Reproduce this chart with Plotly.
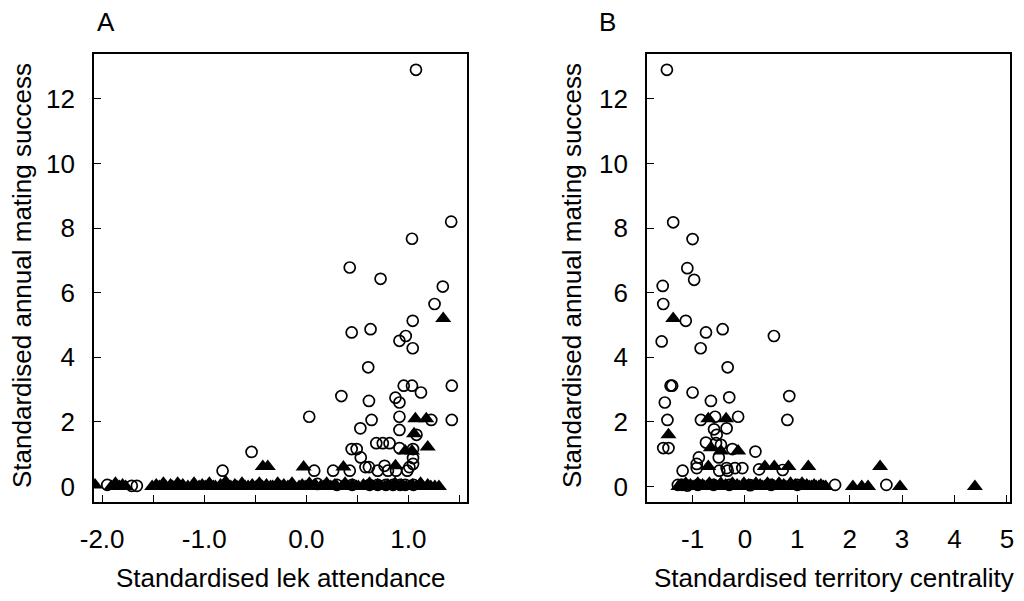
import plotly.graph_objects as go

# ---------------- Panel A : lek attendance ----------------
A_circ_x = [1.075, 1.42, 1.036, 0.426, 0.728, 1.338, 1.257, 1.043, 0.445, 0.63, 0.975, 0.913,
            1.043, 0.607, 0.955, 1.036, 1.426, 1.124, 0.344, 0.614, 0.874, 0.913, 0.029, 0.913,
            0.64, 1.225, 1.426, 0.53, 0.913, 1.08, 0.686, 0.75, 0.816, 0.445, 0.494, 0.913,
            1.046, 0.534, 1.046, 1.046, -0.536, -0.82, 0.078, 0.263, 0.426, 0.58, 0.614, 0.767,
            0.70, 0.80, 0.88, 0.99, 1.01,
            -1.95, -1.71, -1.66, 0.11, 0.30, 0.45, 0.62, 0.70, 0.78, 0.85, 0.92, 0.97, 1.05]
A_circ_y = [12.9, 8.2, 7.67, 6.78, 6.43, 6.19, 5.65, 5.13, 4.77, 4.87, 4.66, 4.51,
            4.28, 3.69, 3.12, 3.12, 3.12, 2.91, 2.80, 2.65, 2.75, 2.60, 2.16, 2.16,
            2.06, 2.06, 2.06, 1.80, 1.75, 1.60, 1.34, 1.34, 1.34, 1.16, 1.16, 1.19,
            1.16, 0.90, 0.88, 0.70, 1.07, 0.49, 0.49, 0.49, 0.49, 0.60, 0.60, 0.64,
            0.49, 0.49, 0.49, 0.49, 0.60,
            0.05, 0.02, 0.02, 0.08, 0.05, 0.05, 0.05, 0.05, 0.05, 0.05, 0.05, 0.05, 0.05]

A_tri_x = [1.342, 1.069, 1.176, 1.056, 1.19, 0.97, 1.036, -0.426, -0.377, -0.026, 0.364, 0.874,
           -2.07, -1.91, -1.87, -1.83, -1.80, -1.77,
           -1.51, -1.47, -1.44, -1.40, -1.38, -1.33, -1.31, -1.26, -1.23, -1.21, -1.16, -1.12,
           -1.10, -1.05, -1.02, -0.99, -0.95, -0.91, -0.89, -0.84, -0.81, -0.79, -0.74, -0.70,
           -0.68, -0.63, -0.60, -0.57, -0.53, -0.49, -0.46, -0.43, -0.39, -0.35, -0.33, -0.28,
           -0.25, -0.22, -0.18, -0.14, -0.12, -0.07, -0.04, -0.01, 0.03, 0.07, 0.09, 0.14,
           0.17, 0.20, 0.24, 0.28, 0.30, 0.35, 0.38, 0.41, 0.45, 0.49, 0.51, 0.56,
           0.59, 0.62, 0.66, 0.70, 0.72, 0.77, 0.80, 0.83, 0.87, 0.91, 0.93, 0.98,
           1.01, 1.04, 1.08, 1.12, 1.14, 1.19, 1.22, 1.26, 1.30]
A_tri_y = [5.2, 2.1, 2.1, 1.63, 1.22, 1.1, 1.1, 0.62, 0.62, 0.60, 0.60, 0.64,
           0.05, 0.0, 0.1, 0.0, 0.05, 0.0,
           0.0, 0.05, 0.0, 0.1, 0.0, 0.05, 0.0, 0.1, 0.0, 0.05, 0.0, 0.0,
           0.1, 0.0, 0.05, 0.0, 0.1, 0.0, 0.0, 0.05, 0.0, 0.15, 0.0, 0.05,
           0.0, 0.1, 0.0, 0.0, 0.05, 0.0, 0.1, 0.0, 0.05, 0.0, 0.0, 0.1,
           0.0, 0.05, 0.0, 0.1, 0.0, 0.0, 0.05, 0.0, 0.1, 0.0, 0.05, 0.0,
           0.0, 0.1, 0.0, 0.05, 0.0, 0.0, 0.1, 0.0, 0.05, 0.0, 0.0, 0.05,
           0.0, 0.1, 0.0, 0.05, 0.0, 0.0, 0.05, 0.0, 0.1, 0.0, 0.05, 0.0,
           0.0, 0.05, 0.0, 0.1, 0.0, 0.05, 0.0, 0.0, 0.0]

# ---------------- Panel B : territory centrality ----------------
B_circ_x = [-1.49, -1.37, -1.00, -1.10, -0.97, -1.57, -1.56, -1.13, -0.744, -0.426, 0.553, -1.59,
            -0.846, -0.33, -1.42, -1.39, -1.00, -1.53, -0.65, -0.30, 0.846, -1.48, -0.84, -0.57,
            -0.13, 0.81, -0.59, -0.35, -0.54, -0.744, -0.553, -0.458, -1.56, -1.46, -0.24, 0.20,
            -0.50, -0.88, -0.92, -0.92, -1.19, -0.35, -0.19, -0.05, -0.49, -0.33, 0.27, 0.72,
            1.72, 2.70,
            -1.28, -1.20, -1.10, -0.90, -0.60, -0.30, 0.10, 0.50, 1.00]
B_circ_y = [12.9, 8.18, 7.66, 6.76, 6.40, 6.21, 5.65, 5.13, 4.77, 4.87, 4.66, 4.49,
            4.28, 3.69, 3.12, 3.12, 2.91, 2.60, 2.65, 2.76, 2.80, 2.06, 2.06, 2.16,
            2.16, 2.06, 1.77, 1.80, 1.60, 1.36, 1.34, 1.29, 1.19, 1.19, 1.16, 1.08,
            0.90, 0.90, 0.70, 0.57, 0.49, 0.57, 0.57, 0.57, 0.49, 0.49, 0.53, 0.51,
            0.05, 0.05,
            0.05, 0.05, 0.03, 0.05, 0.05, 0.05, 0.04, 0.05, 0.05]

B_tri_x = [-1.37, -0.70, -0.36, -1.46, -0.65, -0.46, -0.13, -0.70, 0.38, 0.56, 0.83, 1.21, 2.58,
           2.06, 2.23, 2.35, 2.96, 4.39,
           -1.27, -1.22, -1.18, -1.13, -1.08, -1.04, -0.99, -0.95, -0.90, -0.86, -0.81, -0.77,
           -0.73, -0.68, -0.64, -0.59, -0.55, -0.50, -0.46, -0.42, -0.37, -0.33, -0.28, -0.24,
           -0.19, -0.15, -0.11, -0.06, -0.02, 0.03, 0.07, 0.12, 0.16, 0.21, 0.25, 0.29,
           0.34, 0.38, 0.43, 0.47, 0.52, 0.56, 0.61, 0.65, 0.69, 0.74, 0.78, 0.83,
           0.87, 0.92, 0.96, 1.01, 1.05, 1.09, 1.14, 1.18, 1.23, 1.27, 1.32, 1.36,
           1.41, 1.45, 1.50, 1.54]
B_tri_y = [5.2, 2.1, 2.1, 1.6, 1.2, 1.1, 1.1, 0.62, 0.62, 0.62, 0.62, 0.62, 0.62,
           0.0, 0.0, 0.0, 0.0, 0.0,
           0.0, 0.05, 0.0, 0.1, 0.0, 0.05, 0.0, 0.0, 0.1, 0.0, 0.05, 0.0,
           0.0, 0.1, 0.0, 0.05, 0.0, 0.0, 0.1, 0.0, 0.05, 0.0, 0.0, 0.1,
           0.0, 0.05, 0.0, 0.0, 0.1, 0.0, 0.05, 0.0, 0.0, 0.1, 0.0, 0.05,
           0.0, 0.0, 0.1, 0.0, 0.05, 0.0, 0.0, 0.1, 0.0, 0.05, 0.0, 0.0,
           0.1, 0.0, 0.05, 0.0, 0.0, 0.1, 0.0, 0.05, 0.0, 0.0, 0.05, 0.0,
           0.0, 0.05, 0.0, 0.0]

A_xticks = [-2.0, -1.5, -1.0, -0.5, 0.0, 0.5, 1.0, 1.5]
A_xticktext = ["-2.0", "", "-1.0", "", "0.0", "", "1.0", ""]
B_xticks = [-1, 0, 1, 2, 3, 4, 5]
B_xticktext = ["-1", "0", "1", "2", "3", "4", "5"]
y_ticks = [0, 2, 4, 6, 8, 10, 12]

FONT = "Liberation Sans, Arial, sans-serif"
FS = 26

fig = go.Figure()

circ_marker = dict(symbol="circle-open", size=11, color="black", line=dict(width=1.7, color="black"))
tri_marker = dict(symbol="triangle-up", size=14, color="black", line=dict(width=0))

fig.add_trace(go.Scatter(x=A_circ_x, y=A_circ_y, mode="markers", marker=circ_marker,
                         xaxis="x", yaxis="y", showlegend=False))
fig.add_trace(go.Scatter(x=A_tri_x, y=A_tri_y, mode="markers", marker=tri_marker,
                         xaxis="x", yaxis="y", showlegend=False))
fig.add_trace(go.Scatter(x=B_circ_x, y=B_circ_y, mode="markers", marker=circ_marker,
                         xaxis="x2", yaxis="y2", showlegend=False))
fig.add_trace(go.Scatter(x=B_tri_x, y=B_tri_y, mode="markers", marker=tri_marker,
                         xaxis="x2", yaxis="y2", showlegend=False))

W, H = 1024, 601
OFF = 8  # page body margin in the browser
def px_x(p):
    return (p - OFF) / W
def px_y(p):
    return 1 - (p - OFF) / H

axis_common = dict(showline=True, linecolor="black", linewidth=1.6, mirror=True,
                   ticks="inside", ticklen=7, tickwidth=1.4, tickcolor="black",
                   showgrid=False, zeroline=False, automargin=False,
                   tickfont=dict(family=FONT, size=FS, color="black"))

fig.update_layout(
    width=W, height=H, autosize=False,
    margin=dict(l=0, r=0, t=0, b=0, pad=0, autoexpand=False),
    paper_bgcolor="white", plot_bgcolor="white",
    xaxis=dict(domain=[px_x(94), px_x(467)], range=[-2.08, 1.575], anchor="y",
               tickmode="array", tickvals=A_xticks, ticktext=A_xticktext,
               ticklabelstandoff=13, **axis_common),
    yaxis=dict(domain=[px_y(502), px_y(54)], range=[-0.48, 13.39], anchor="x",
               tickmode="array", tickvals=y_ticks, ticktext=[str(v) for v in y_ticks],
               ticklabelstandoff=12, **axis_common),
    xaxis2=dict(domain=[px_x(647), px_x(1010)], range=[-1.87, 5.06], anchor="y2",
                tickmode="array", tickvals=B_xticks, ticktext=B_xticktext,
                ticklabelstandoff=13, **axis_common),
    yaxis2=dict(domain=[px_y(502), px_y(54)], range=[-0.48, 13.39], anchor="x2",
                tickmode="array", tickvals=y_ticks, ticktext=[str(v) for v in y_ticks],
                ticklabelstandoff=12, **axis_common),
)

ann_font = dict(family=FONT, size=FS, color="black")
def ann(text, x, y, angle=0):
    return dict(text=text, x=px_x(x), y=px_y(y), xref="paper", yref="paper",
                xanchor="center", yanchor="middle", showarrow=False,
                textangle=angle, font=ann_font)

annotations = [
    ann("A", 106, 22),
    ann("B", 607, 22),
    ann("Standardised lek attendance", 281, 578),
    ann("Standardised territory centrality", 834, 578),
    ann("Standardised annual mating success", 22, 276, -90),
    ann("Standardised annual mating success", 572, 276, -90),
]
fig.update_layout(annotations=annotations)

fig.write_html("out.html")
